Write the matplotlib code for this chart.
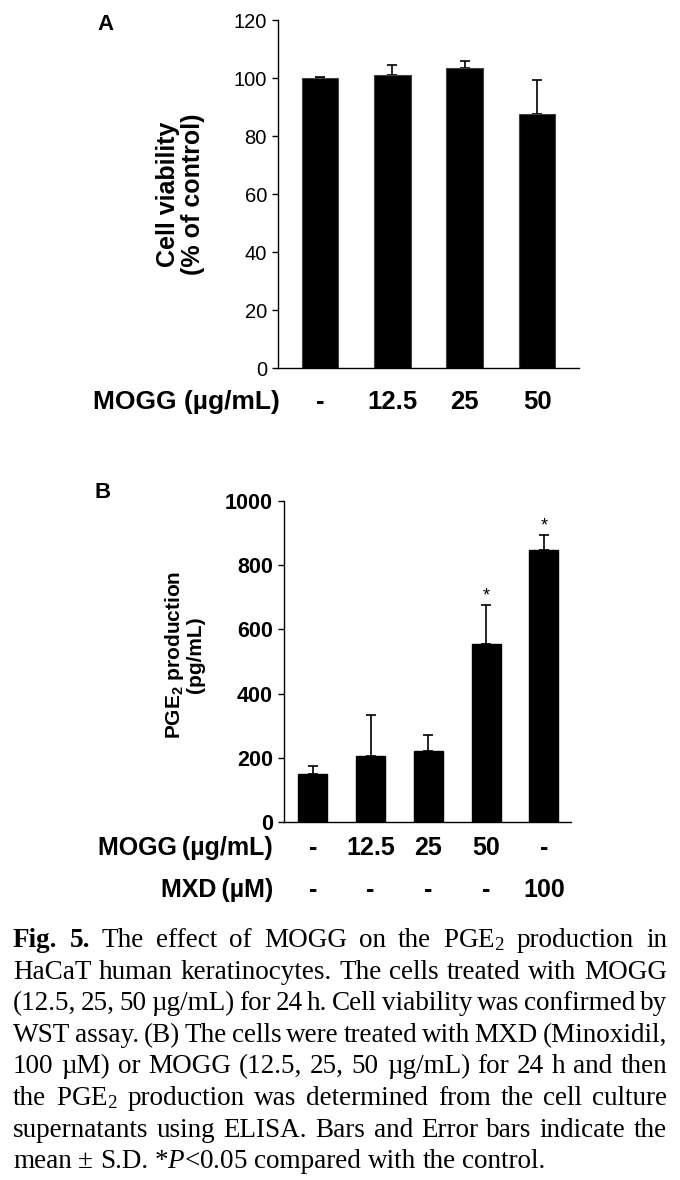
import matplotlib
matplotlib.use('Agg')
import matplotlib.pyplot as plt
import numpy as np

# Panel A: cell viability
a_labels = ['-', '12.5', '25', '50']
a_values = [100, 101, 103.3, 87.7]
a_errors = [0.5, 3.5, 2.6, 11.6]

# Panel B: PGE2 production
b_mogg = ['-', '12.5', '25', '50', '-']
b_mxd = ['-', '-', '-', '-', '100']
b_values = [148, 205, 222, 554, 848]
b_errors = [28, 127, 49, 123, 47]
b_stars = ['', '', '', '*', '*']

caption_lines = [
    "Fig. 5. The effect of MOGG on the PGE$_2$ production in",
    "HaCaT human keratinocytes. The cells treated with MOGG",
    "(12.5, 25, 50 µg/mL) for 24 h. Cell viability was confirmed by",
    "WST assay. (B) The cells were treated with MXD (Minoxidil,",
    "100 µM) or MOGG (12.5, 25, 50 µg/mL) for 24 h and then",
    "the PGE$_2$ production was determined from the cell culture",
    "supernatants using ELISA. Bars and Error bars indicate the",
    "mean ± S.D. *$\\mathit{P}$<0.05 compared with the control.",
]

plt.rcParams['font.family'] = ['Liberation Sans', 'DejaVu Sans']
plt.rcParams['mathtext.fontset'] = 'custom'
plt.rcParams['mathtext.rm'] = 'Liberation Serif'
plt.rcParams['mathtext.it'] = 'Liberation Serif:italic'
plt.rcParams['mathtext.bf'] = 'Liberation Sans:bold'

W, H = 680, 1180
fig = plt.figure(figsize=(6.8, 11.8), dpi=100)


def ax_rect(l, r, t, b):
    return [l / W, 1 - b / H, (r - l) / W, (b - t) / H]


def style_axes(ax):
    for s in ['top', 'right']:
        ax.spines[s].set_visible(False)
    ax.spines['left'].set_linewidth(1.0)
    ax.spines['bottom'].set_linewidth(1.0)
    ax.tick_params(axis='x', bottom=False, labelbottom=False)
    ax.tick_params(axis='y', direction='out', length=4, width=1.0, pad=4)


# ---- panel A
axA = fig.add_axes(ax_rect(278, 579, 20, 368))
xa = np.arange(len(a_values))
axA.bar(xa, a_values, width=0.51, color='black', edgecolor='#404040', linewidth=0.8, zorder=2)
axA.errorbar(xa, a_values, yerr=[np.zeros(len(a_errors)), a_errors], fmt='none',
             ecolor='black', elinewidth=1.2, capsize=3.5, capthick=1.2, zorder=1)
axA.set_xlim(-0.58, 3.58)
axA.set_ylim(0, 120)
axA.set_yticks(np.arange(0, 121, 20))
style_axes(axA)
for lab in axA.get_yticklabels():
    lab.set_fontsize(14.5)
axA.set_ylabel('Cell viability\n(% of control)', fontsize=18, fontweight='bold', linespacing=1.05)
axA.yaxis.set_label_coords(-0.243, 0.5)
trA = axA.get_xaxis_transform()
ya = -34 / 348
for i, t in enumerate(a_labels):
    axA.text(i, ya, t, transform=trA, ha='center', va='center', fontsize=18.5, fontweight='bold')
fig.text(280 / W, 1 - 402 / H, 'MOGG (µg/mL)', ha='right', va='center', fontsize=19, fontweight='bold')
fig.text(105 / W, 1 - 25 / H, 'A', ha='center', va='center', fontsize=16, fontweight='bold')

# ---- panel B
axB = fig.add_axes(ax_rect(284, 571, 501, 822))
xb = np.arange(len(b_values))
axB.bar(xb, b_values, width=0.5, color='black', edgecolor='black', zorder=2)
axB.errorbar(xb, b_values, yerr=[np.zeros(len(b_errors)), b_errors], fmt='none',
             ecolor='black', elinewidth=1.2, capsize=3.5, capthick=1.2, zorder=1)
for i, s in enumerate(b_stars):
    if s:
        axB.text(i, b_values[i] + b_errors[i], s, ha='center', va='bottom', fontsize=13)
axB.set_xlim(-0.5, 4.47)
axB.set_ylim(0, 1000)
axB.set_yticks(np.arange(0, 1001, 200))
style_axes(axB)
for lab in axB.get_yticklabels():
    lab.set_fontsize(15.5)
    lab.set_fontweight('bold')
axB.set_ylabel('PGE$_\\mathbf{2}$ production\n(pg/mL)', fontsize=15, fontweight='bold',
               linespacing=1.0)
axB.yaxis.set_label_coords(-0.275, 0.52)
trB = axB.get_xaxis_transform()
for i, t in enumerate(b_mogg):
    axB.text(i, -26 / 321, t, transform=trB, ha='center', va='center', fontsize=18, fontweight='bold')
for i, t in enumerate(b_mxd):
    axB.text(i, -68 / 321, t, transform=trB, ha='center', va='center', fontsize=18, fontweight='bold')
fig.text(273 / W, 1 - 848 / H, 'MOGG\u2009(µg/mL)', ha='right', va='center', fontsize=18, fontweight='bold')
fig.text(273 / W, 1 - 890 / H, 'MXD\u2009(µM)', ha='right', va='center', fontsize=18, fontweight='bold')
fig.text(103 / W, 1 - 492 / H, 'B', ha='center', va='center', fontsize=16, fontweight='bold')

# ---- caption, justified word by word
left_px, right_px = 13, 667
base0, step = 947, 31.6
renderer = fig.canvas.get_renderer()
for li, line in enumerate(caption_lines):
    words = line.split(' ')
    y = 1 - (base0 + li * step) / H
    texts = []
    for wi, w in enumerate(words):
        bold = li == 0 and wi < 2
        texts.append(fig.text(0, y, w, ha='left', va='baseline', fontsize=19.5,
                              family='Liberation Serif',
                              fontweight='bold' if bold else 'normal'))
    widths = [t.get_window_extent(renderer).width for t in texts]
    if li < len(caption_lines) - 1:
        gap = (right_px - left_px - sum(widths)) / (len(words) - 1)
    else:
        gap = 6.5
    x = left_px
    for t, wd in zip(texts, widths):
        t.set_x(x / W)
        x += wd + gap

fig.savefig('out.png', dpi=100)
